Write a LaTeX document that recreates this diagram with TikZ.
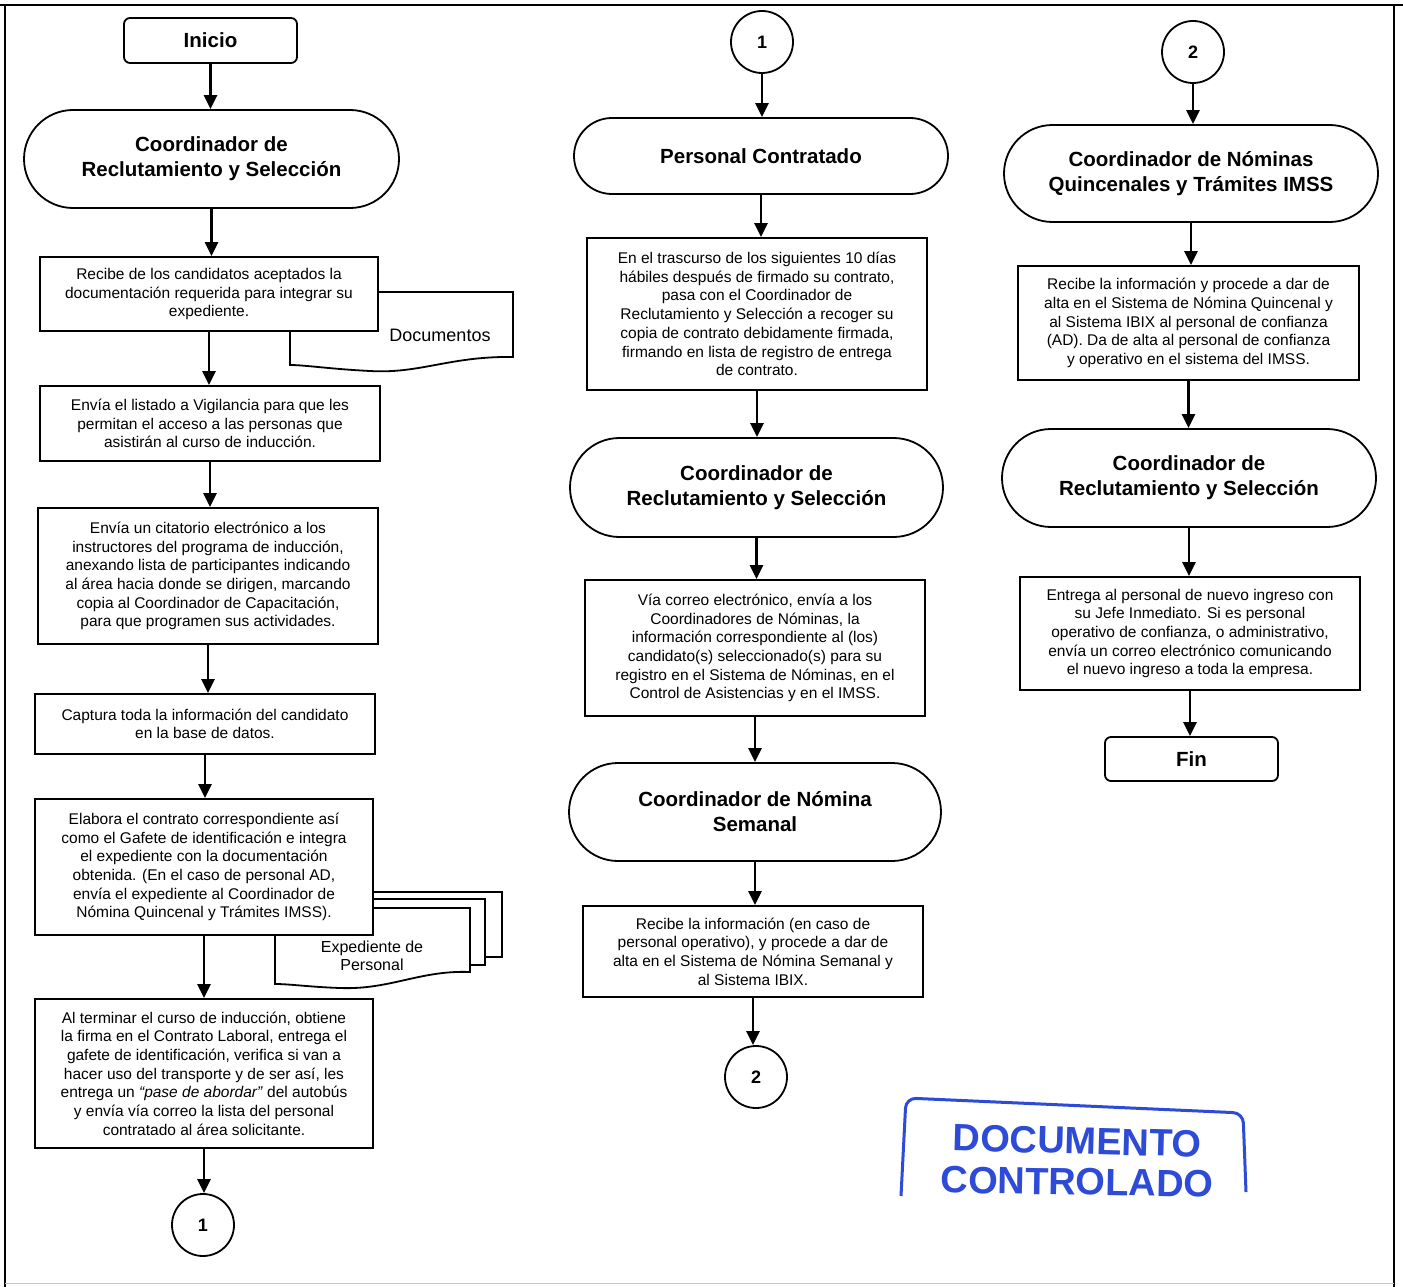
\documentclass[tikz,border=0pt]{standalone}
\usepackage{fontspec}
\setmainfont{Liberation Sans}
\usetikzlibrary{arrows.meta,shapes.misc}
\definecolor{stampblue}{RGB}{45,75,215}
\begin{document}
\begin{tikzpicture}[x=1pt,y=-1pt,
 box/.style={draw, line width=1.8pt, fill=white, align=center, inner sep=2pt, font=\fontsize{15.5}{18.7}\selectfont},
 term/.style={draw, line width=1.8pt, rounded corners=6pt, fill=white, font=\fontsize{20.5}{25}\selectfont\bfseries},
 role/.style={draw, rounded rectangle, line width=1.8pt, fill=white, align=center, inner sep=2pt, font=\fontsize{20.5}{25}\selectfont\bfseries},
 conn/.style={draw, circle, line width=1.8pt, minimum size=62pt, inner sep=0pt, fill=white, font=\fontsize{18}{20}\selectfont\bfseries},
 arr/.style={line width=2.4pt, -{Triangle[width=13pt,length=14pt]}},
 docshape/.style={draw, line width=1.8pt, fill=white},
 doctext/.style={align=center, inner sep=0pt},
 stamptxt/.style={text=stampblue, font=\fontsize{38}{40}\selectfont\bfseries, inner sep=0pt},
]
\useasboundingbox (0,0) rectangle (1403,1287);
\fill[white] (0,0) rectangle (1403,1287);
% frame
\draw[line width=1.5pt] (0,5) -- (1403,5);
\draw[line width=1.5pt] (5,5) -- (5,1287);
\draw[line width=1.5pt] (1394,5) -- (1394,1287);
\draw[gray!45, line width=1pt] (5,1283) -- (1394,1283);

% ---------- document shapes (behind boxes) ----------
\path[docshape] (290,292) -- (513,292) -- (513,357) .. controls (450,356) and (420,374) .. (370,371) .. controls (330,369) and (305,365) .. (290,365) -- cycle;
\node[doctext, font=\fontsize{18}{20}\selectfont] (doclbl) at (440,335) {Documentos};

\path[docshape] (300,892) -- (502,892) -- (502,957) -- (300,957) -- cycle;
\path[docshape] (290,899) -- (485,899) -- (485,965) -- (290,965) -- cycle;
\path[docshape] (275,908) -- (470,908) -- (470,972) .. controls (420,970) and (390,990) .. (340,988) .. controls (310,987) and (290,984) .. (275,984) -- cycle;
\node[doctext, font=\fontsize{16}{18.5}\selectfont] (explbl) at (372,956) {Expediente de\\Personal};

% ---------- left column ----------
\node[term, minimum width=173pt, minimum height=45pt] (inicio) at (210.5,40.5) {Inicio};
\node[role, minimum width=379pt, minimum height=98pt] (lrole) at (211.5,159) {Coordinador de\\Reclutamiento y Selección};
\node[box, minimum width=338pt, minimum height=74pt] (b1) at (209,294) {Recibe de los candidatos aceptados la\\documentación requerida para integrar su\\expediente.};
\node[box, minimum width=340pt, minimum height=75pt] (b2) at (210,423.5) {Envía el listado a Vigilancia para que les\\permitan el acceso a las personas que\\asistirán al curso de inducción.};
\node[box, minimum width=340pt, minimum height=136pt] (b3) at (208,576) {Envía un citatorio electrónico a los\\instructores del programa de inducción,\\anexando lista de participantes indicando\\al área hacia donde se dirigen, marcando\\copia al Coordinador de Capacitación,\\para que programen sus actividades.};
\node[box, minimum width=340pt, minimum height=60pt] (b4) at (205,724) {Captura toda la información del candidato\\en la base de datos.};
\node[box, minimum width=338pt, minimum height=136pt] (b5) at (204,867) {Elabora el contrato correspondiente así\\como el Gafete de identificación e integra\\el expediente con la documentación\\obtenida. (En el caso de personal AD,\\envía el expediente al Coordinador de\\Nómina Quincenal y Trámites IMSS).};
\node[box, minimum width=338pt, minimum height=149pt] (b6) at (204,1073.5) {Al terminar el curso de inducción, obtiene\\la firma en el Contrato Laboral, entrega el\\gafete de identificación, verifica si van a\\hacer uso del transporte y de ser así, les\\entrega un \textit{“pase de abordar”} del autobús\\y envía vía correo la lista del personal\\contratado al área solicitante.};
\node[conn] (c1a) at (203,1225) {1};

\draw[arr] (inicio.south) -- (inicio.south |- lrole.north);
\draw[arr] (lrole.south) -- (lrole.south |- b1.north);
\draw[arr] (b1.south) -- (b1.south |- b2.north);
\draw[arr] (b2.south) -- (b2.south |- b3.north);
\draw[arr] (b3.south) -- (b3.south |- b4.north);
\draw[arr] (b4.south) -- (b4.south |- b5.north);
\draw[arr] (b5.south) -- (b5.south |- b6.north);
\draw[arr] (b6.south) -- (b6.south |- c1a.north);

% ---------- middle column ----------
\node[conn] (c1b) at (762,42) {1};
\node[role, minimum width=378pt, minimum height=76pt] (m1) at (761,156) {Personal Contratado};
\node[box, minimum width=340pt, minimum height=152pt] (mb1) at (757,314) {En el trascurso de los siguientes 10 días\\hábiles después de firmado su contrato,\\pasa con el Coordinador de\\Reclutamiento y Selección a recoger su\\copia de contrato debidamente firmada,\\firmando en lista de registro de entrega\\de contrato.};
\node[role, minimum width=377pt, minimum height=99pt] (m2) at (756.5,487.5) {Coordinador de\\Reclutamiento y Selección};
\node[box, minimum width=340pt, minimum height=136pt] (mb2) at (755,648) {Vía correo electrónico, envía a los\\Coordinadores de Nóminas, la\\información correspondiente al (los)\\candidato(s) seleccionado(s) para su\\registro en el Sistema de Nóminas, en el\\Control de Asistencias y en el IMSS.};
\node[role, minimum width=376pt, minimum height=98pt] (m3) at (755,812) {Coordinador de Nómina\\Semanal};
\node[box, minimum width=340pt, minimum height=91pt] (mb3) at (753,951.5) {Recibe la información (en caso de\\personal operativo), y procede a dar de\\alta en el Sistema de Nómina Semanal y\\al Sistema IBIX.};
\node[conn] (c2a) at (756,1077) {2};

\draw[arr] (c1b.south) -- (c1b.south |- m1.north);
\draw[arr] (m1.south) -- (m1.south |- mb1.north);
\draw[arr] (mb1.south) -- (mb1.south |- m2.north);
\draw[arr] (m2.south) -- (m2.south |- mb2.north);
\draw[arr] (mb2.south) -- (mb2.south |- m3.north);
\draw[arr] (m3.south) -- (m3.south |- mb3.north);
\draw[arr] (mb3.south) -- (mb3.south |- c2a.north);

% ---------- right column ----------
\node[conn] (c2b) at (1193,52) {2};
\node[role, minimum width=378pt, minimum height=97pt] (r1) at (1191,173.5) {Coordinador de Nóminas\\Quincenales y Trámites IMSS};
\node[box, minimum width=341pt, minimum height=114pt] (rb1) at (1188.5,323) {Recibe la información y procede a dar de\\alta en el Sistema de Nómina Quincenal y\\al Sistema IBIX al personal de confianza\\(AD). Da de alta al personal de confianza\\y operativo en el sistema del IMSS.};
\node[role, minimum width=378pt, minimum height=98pt] (r2) at (1189,478) {Coordinador de\\Reclutamiento y Selección};
\node[box, minimum width=340pt, minimum height=113pt] (rb2) at (1190,633.5) {Entrega al personal de nuevo ingreso con\\su Jefe Inmediato. Si es personal\\operativo de confianza, o administrativo,\\envía un correo electrónico comunicando\\el nuevo ingreso a toda la empresa.};
\node[term, minimum width=173pt, minimum height=44pt] (fin) at (1191.5,759) {Fin};

\draw[arr] (c2b.south) -- (c2b.south |- r1.north);
\draw[arr] (r1.south) -- (r1.south |- rb1.north);
\draw[arr] (rb1.south) -- (rb1.south |- r2.north);
\draw[arr] (r2.south) -- (r2.south |- rb2.north);
\draw[arr] (rb2.south) -- (rb2.south |- fin.north);

% ---------- stamp ----------
\draw[stampblue, line width=3pt, rounded corners=10pt] (901,1196) -- (906,1098) -- (1243,1113) -- (1246,1192);
\node[stamptxt, rotate=-1.5, anchor=base] (st1) at (1077,1154) {DOCUMENTO};
\node[stamptxt, rotate=-1, anchor=base] (st2) at (1077,1195) {CONTROLADO};
\end{tikzpicture}
\end{document}
